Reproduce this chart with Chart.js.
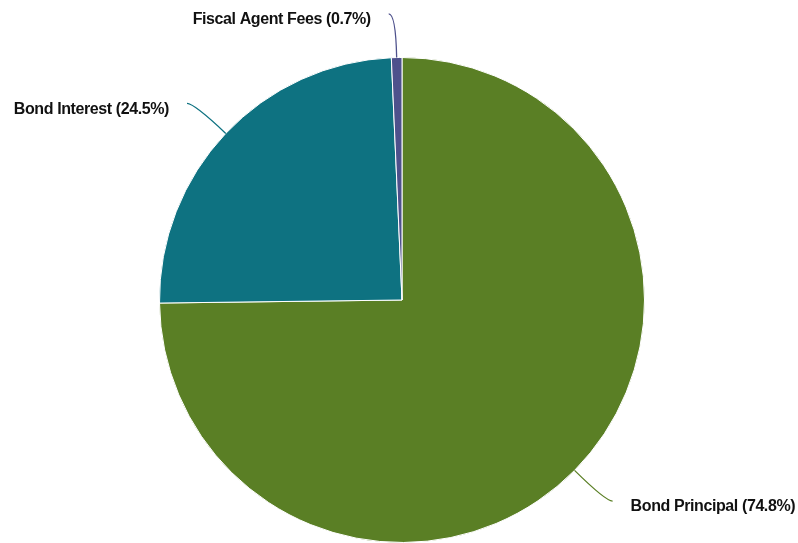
<!DOCTYPE html>
<html>
<head>
<meta charset="utf-8">
<script src="https://cdn.jsdelivr.net/npm/chart.js@4/dist/chart.umd.min.js"></script>
<style>
html,body{margin:0;padding:0;background:#fff;}
#wrap{width:798px;height:543px;position:relative;}
</style>
</head>
<body>
<div id="wrap"><canvas id="pie"></canvas></div>
<script>
// values (percent of total)
const categories = ["Bond Principal", "Bond Interest", "Fiscal Agent Fees"];
const shares = [74.8, 24.5, 0.7];
const colors = ["#5a7f25", "#0e7281", "#4e518c"];

// leader lines + labels outside the pie
const outsideLabels = {
  id: "outsideLabels",
  afterDatasetsDraw(chart){
    const ctx = chart.ctx;
    const meta = chart.getDatasetMeta(0);
    ctx.save();
    ctx.font = "bold 16px 'Liberation Sans', Arial, sans-serif";
    try{ ctx.letterSpacing = "-0.4px"; }catch(e){}
    meta.data.forEach((arc, i) => {
      const p = arc.getProps(["x","y","startAngle","endAngle","outerRadius"], true);
      const mid = (p.startAngle + p.endAngle) / 2;
      const R = p.outerRadius;
      const cos = Math.cos(mid), sin = Math.sin(mid);
      const side = cos >= 0 ? 1 : -1;
      const x0 = p.x + R*cos, y0 = p.y + R*sin;
      const cx = p.x + R*1.18*cos, cy = p.y + R*1.18*sin;
      const x2 = cx + side*7, y2 = cy;
      ctx.strokeStyle = colors[i];
      ctx.lineWidth = 1.3;
      ctx.beginPath();
      ctx.moveTo(x0, y0);
      ctx.quadraticCurveTo(cx, cy, x2, y2);
      ctx.stroke();
      const txt = categories[i] + " (" + shares[i].toFixed(1) + "%)";
      ctx.fillStyle = "#111";
      ctx.textBaseline = "middle";
      ctx.textAlign = side > 0 ? "left" : "right";
      ctx.fillText(txt, x2 + side*18, y2 + 6);
    });
    ctx.restore();
  }
};

new Chart(document.getElementById("pie"), {
  type: "pie",
  data: {
    labels: categories,
    datasets: [{
      data: shares,
      backgroundColor: colors,
      borderColor: "#ffffff",
      borderWidth: 1
    }]
  },
  options: {
    responsive: true,
    maintainAspectRatio: false,
    animation: false,
    layout: { padding: { top: 57, bottom: 0, left: 6, right: 0 } },
    plugins: { legend: { display: false }, tooltip: { enabled: false } }
  },
  plugins: [outsideLabels]
});
</script>
</body>
</html>
